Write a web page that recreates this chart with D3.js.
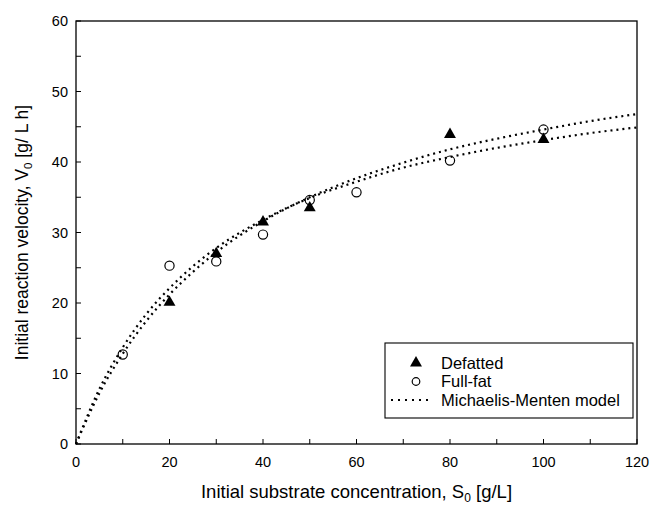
<!DOCTYPE html>
<html>
<head>
<meta charset="utf-8">
<script src="https://cdn.jsdelivr.net/npm/d3@7"></script>
<style>
  body { margin: 0; background: #fff; }
  text { font-family: "Liberation Sans", Arial, sans-serif; fill: #000; }
</style>
</head>
<body>
<script>
// measured points
var defattedS = [20, 30, 40, 50, 80, 100],
    defattedV = [20.1, 27.0, 31.5, 33.5, 43.9, 43.2];
var fullfatS = [10, 20, 30, 40, 50, 60, 80, 100],
    fullfatV = [12.7, 25.3, 25.9, 29.7, 34.6, 35.7, 40.2, 44.6];

// model curves
var modelS  = [0, 5, 10, 15, 20, 25, 30, 40, 50, 60, 70, 80, 90, 100, 110, 120],
    modelV1 = [0, 7.2, 12.8, 17.4, 21.2, 24.4, 27.2, 31.6, 35.0, 37.7, 39.9, 41.8, 43.3, 44.6, 45.8, 46.8],
    modelV2 = [0, 7.8, 13.7, 18.4, 22.1, 25.2, 27.8, 31.8, 34.9, 37.2, 39.2, 40.7, 42.0, 43.1, 44.1, 44.9];

var xTicks = [0, 20, 40, 60, 80, 100, 120],
    yTicks = [0, 10, 20, 30, 40, 50, 60];

var width = 651, height = 508,
    margin = {left: 76, right: 14, top: 21, bottom: 64};

var svg = d3.select("body").append("svg")
    .attr("width", width)
    .attr("height", height);

var x = d3.scaleLinear().domain([0, 120]).range([margin.left, width - margin.right]),
    y = d3.scaleLinear().domain([0, 60]).range([height - margin.bottom, margin.top]);

// frame
svg.append("rect")
    .attr("x", x(0)).attr("y", y(60))
    .attr("width", x(120) - x(0)).attr("height", y(0) - y(60))
    .attr("fill", "none").attr("stroke", "#000").attr("stroke-width", 1.3);

// ticks point inward, minor ticks between majors
var xMinor = d3.range(0, 121, 10), yMinor = d3.range(0, 61, 5);
svg.append("g").selectAll("line").data(xMinor).enter().append("line")
    .attr("x1", function(d){ return x(d); }).attr("x2", function(d){ return x(d); })
    .attr("y1", y(0)).attr("y2", y(0) - 5)
    .attr("stroke", "#000").attr("stroke-width", 1);
svg.append("g").selectAll("line").data(yMinor).enter().append("line")
    .attr("x1", x(0)).attr("x2", x(0) + 5)
    .attr("y1", function(d){ return y(d); }).attr("y2", function(d){ return y(d); })
    .attr("stroke", "#000").attr("stroke-width", 1);

svg.append("g").selectAll("text").data(xTicks).enter().append("text")
    .attr("x", function(d){ return x(d); })
    .attr("y", y(0) + 23)
    .attr("text-anchor", "middle")
    .style("font-size", "14.5px")
    .text(function(d){ return d; });
svg.append("g").selectAll("text").data(yTicks).enter().append("text")
    .attr("x", x(0) - 8)
    .attr("y", function(d){ return y(d) + 5; })
    .attr("text-anchor", "end")
    .style("font-size", "14.5px")
    .text(function(d){ return d; });

// axis titles
var xt = svg.append("text")
    .attr("x", (x(0) + x(120)) / 2)
    .attr("y", 498)
    .attr("text-anchor", "middle")
    .style("font-size", "18.5px");
xt.append("tspan").text("Initial substrate concentration, S");
xt.append("tspan").attr("dy", 4).style("font-size", "12px").text("0");
xt.append("tspan").attr("dy", -4).text(" [g/L]");

var yt = svg.append("text")
    .attr("transform", "translate(28," + ((y(0) + y(60)) / 2) + ")rotate(-90)")
    .attr("text-anchor", "middle")
    .style("font-size", "17.5px");
yt.append("tspan").text("Initial reaction velocity, V");
yt.append("tspan").attr("dy", 4).style("font-size", "11.5px").text("0");
yt.append("tspan").attr("dy", -4).text(" [g/ L h]");

// model curves
var line = d3.line()
    .x(function(d){ return x(d[0]); })
    .y(function(d){ return y(d[1]); })
    .curve(d3.curveMonotoneX);

[modelV1, modelV2].forEach(function(vals){
  svg.append("path")
      .datum(d3.zip(modelS, vals))
      .attr("d", line)
      .attr("fill", "none")
      .attr("stroke", "#000")
      .attr("stroke-width", 2.2)
      .attr("stroke-dasharray", "2,4");
});

// markers
var tri = d3.symbol().type(d3.symbolTriangle).size(62);

svg.append("g").selectAll("circle")
    .data(d3.zip(fullfatS, fullfatV)).enter().append("circle")
    .attr("cx", function(d){ return x(d[0]); })
    .attr("cy", function(d){ return y(d[1]); })
    .attr("r", 4.6)
    .attr("fill", "none")
    .attr("stroke", "#000").attr("stroke-width", 1.2);

svg.append("g").selectAll("path")
    .data(d3.zip(defattedS, defattedV)).enter().append("path")
    .attr("d", tri)
    .attr("transform", function(d){ return "translate(" + x(d[0]) + "," + y(d[1]) + ")"; })
    .attr("fill", "#000");

// legend
var lg = svg.append("g");
lg.append("rect")
    .attr("x", 385).attr("y", 343).attr("width", 248).attr("height", 75)
    .attr("fill", "#fff").attr("stroke", "#000").attr("stroke-width", 1.1);
lg.append("path").attr("d", tri).attr("transform", "translate(416,363)").attr("fill", "#000");
lg.append("circle").attr("cx", 416).attr("cy", 381.5).attr("r", 3.8)
    .attr("fill", "none").attr("stroke", "#000").attr("stroke-width", 1.2);
lg.append("line").attr("x1", 391).attr("x2", 432).attr("y1", 400).attr("y2", 400)
    .attr("stroke", "#000").attr("stroke-width", 2).attr("stroke-dasharray", "2,5");
var labels = ["Defatted", "Full-fat", "Michaelis-Menten model"];
lg.selectAll("text.lab").data(labels).enter().append("text")
    .attr("class", "lab")
    .attr("x", 441)
    .attr("y", function(d, i){ return 368.5 + i * 18.5; })
    .style("font-size", "16.5px")
    .text(function(d){ return d; });
</script>
</body>
</html>
